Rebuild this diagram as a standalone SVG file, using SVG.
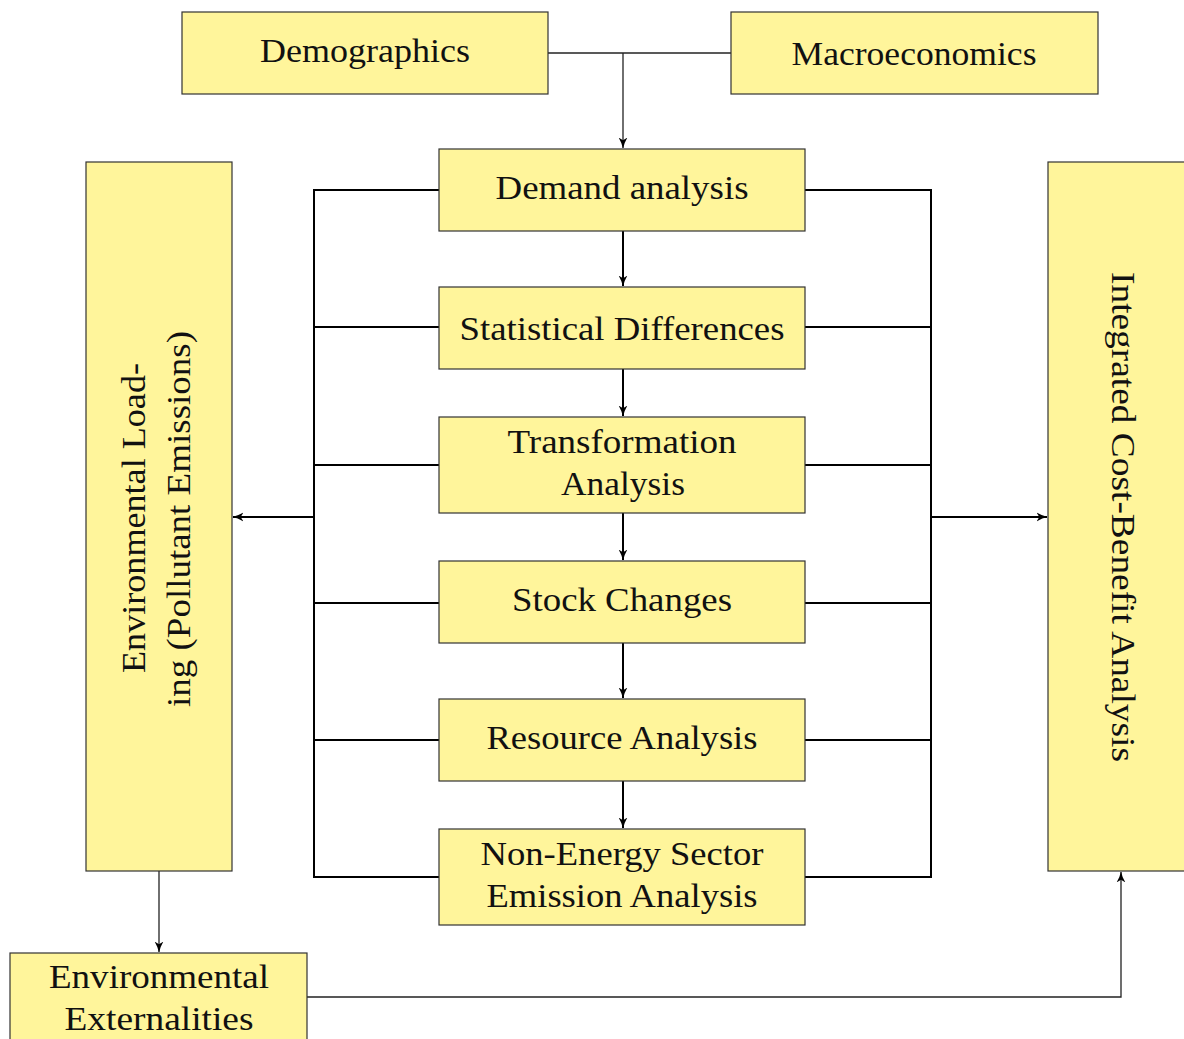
<svg xmlns="http://www.w3.org/2000/svg" width="1184" height="1039" viewBox="0 0 1184 1039">
  <defs>
    <style>
      .box { fill: #fff59b; stroke: #333; stroke-width: 1.2; }
      .lbl { font-family: "Liberation Serif", "DejaVu Serif", serif; font-size: 33px; fill: #111; text-anchor: middle; dominant-baseline: central; }
      .thin { fill: none; stroke: #222; stroke-width: 1.3; }
      .thick { fill: none; stroke: #000; stroke-width: 2; }
    </style>
    <marker id="arr" viewBox="0 0 10 10" refX="9.5" refY="5" markerWidth="11" markerHeight="11" markerUnits="userSpaceOnUse" orient="auto">
      <path d="M0,1 Q5,4 10,5 Q5,6 0,9 L2.5,5 Z" fill="#000"/>
    </marker>
  </defs>
  <rect width="1184" height="1039" fill="#fff"/>

  <!-- connectors -->
  <g id="connectors">
    <path class="thin" d="M548,53 H731"/>
    <path class="thin" d="M623,53 V148" marker-end="url(#arr)"/>
    <path class="thick" d="M623,231 V286" marker-end="url(#arr)"/>
    <path class="thick" d="M623,369 V416" marker-end="url(#arr)"/>
    <path class="thick" d="M623,513 V560" marker-end="url(#arr)"/>
    <path class="thick" d="M623,643 V698" marker-end="url(#arr)"/>
    <path class="thick" d="M623,781 V828" marker-end="url(#arr)"/>
    <!-- left bus -->
    <path class="thick" d="M439,190 H314 V877 H439 M314,327 H439 M314,465 H439 M314,603 H439 M314,740 H439"/>
    <path class="thick" d="M314,517 H233" marker-end="url(#arr)"/>
    <!-- right bus -->
    <path class="thick" d="M805,190 H931 V877 H805 M931,327 H805 M931,465 H805 M931,603 H805 M931,740 H805"/>
    <path class="thick" d="M931,517 H1047" marker-end="url(#arr)"/>
    <!-- lower links -->
    <path class="thin" d="M159,871 V952" marker-end="url(#arr)"/>
    <path class="thin" d="M307,997 H1121 V872" marker-end="url(#arr)"/>
  </g>

  <g id="demographics">
    <rect class="box" x="182" y="12" width="366" height="82"/>
    <text class="lbl" x="365" y="51" textLength="210" lengthAdjust="spacingAndGlyphs">Demographics</text>
  </g>
  <g id="macroeconomics">
    <rect class="box" x="731" y="12" width="367" height="82"/>
    <text class="lbl" x="914" y="54" textLength="245" lengthAdjust="spacingAndGlyphs">Macroeconomics</text>
  </g>
  <g id="demand">
    <rect class="box" x="439" y="149" width="366" height="82"/>
    <text class="lbl" x="622" y="188" textLength="253" lengthAdjust="spacingAndGlyphs">Demand analysis</text>
  </g>
  <g id="statdiff">
    <rect class="box" x="439" y="287" width="366" height="82"/>
    <text class="lbl" x="622" y="329" textLength="325" lengthAdjust="spacingAndGlyphs">Statistical Differences</text>
  </g>
  <g id="transformation">
    <rect class="box" x="439" y="417" width="366" height="96"/>
    <text class="lbl" x="622" y="442" textLength="229" lengthAdjust="spacingAndGlyphs">Transformation</text>
    <text class="lbl" x="623" y="484" textLength="124" lengthAdjust="spacingAndGlyphs">Analysis</text>
  </g>
  <g id="stock">
    <rect class="box" x="439" y="561" width="366" height="82"/>
    <text class="lbl" x="622" y="600" textLength="220" lengthAdjust="spacingAndGlyphs">Stock Changes</text>
  </g>
  <g id="resource">
    <rect class="box" x="439" y="699" width="366" height="82"/>
    <text class="lbl" x="622" y="738" textLength="271" lengthAdjust="spacingAndGlyphs">Resource Analysis</text>
  </g>
  <g id="nonenergy">
    <rect class="box" x="439" y="829" width="366" height="96"/>
    <text class="lbl" x="622" y="854" textLength="283" lengthAdjust="spacingAndGlyphs">Non-Energy Sector</text>
    <text class="lbl" x="622" y="896" textLength="271" lengthAdjust="spacingAndGlyphs">Emission Analysis</text>
  </g>
  <g id="envload">
    <rect class="box" x="86" y="162" width="146" height="709"/>
    <g transform="translate(159,517) rotate(-90)">
      <text class="lbl" x="-1" y="-25" textLength="310" lengthAdjust="spacingAndGlyphs">Environmental Load-</text>
      <text class="lbl" x="-2" y="20" textLength="376" lengthAdjust="spacingAndGlyphs">ing (Pollutant Emissions)</text>
    </g>
  </g>
  <g id="costbenefit">
    <rect class="box" x="1048" y="162" width="150" height="709"/>
    <text class="lbl" transform="translate(1123,517) rotate(90)" x="0" y="0" textLength="490" lengthAdjust="spacingAndGlyphs">Integrated Cost-Benefit Analysis</text>
  </g>
  <g id="externalities">
    <rect class="box" x="10" y="953" width="297" height="100"/>
    <text class="lbl" x="159" y="977" textLength="220" lengthAdjust="spacingAndGlyphs">Environmental</text>
    <text class="lbl" x="159" y="1019" textLength="189" lengthAdjust="spacingAndGlyphs">Externalities</text>
  </g>
</svg>
